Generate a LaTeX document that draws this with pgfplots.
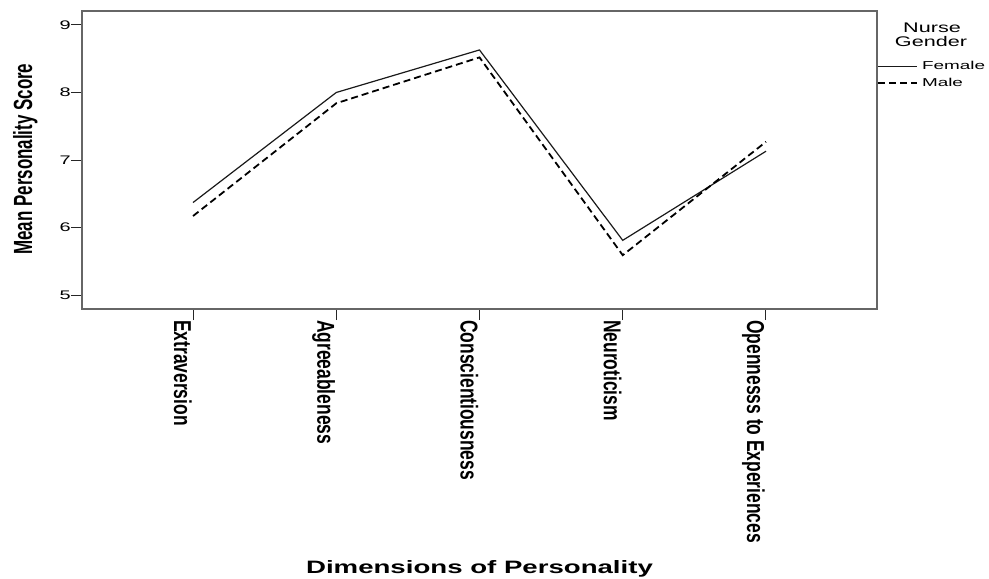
\documentclass[border=0pt]{standalone}
\usepackage{fontspec}
\setmainfont{Liberation Sans}
\usepackage{graphicx}
\usepackage{pgfplots}
\pgfplotsset{compat=1.18}
\newcommand\xl[1]{\scalebox{1}[1.4]{\fontsize{17.5}{18}\selectfont\bfseries #1}}
\newcommand\yl[1]{\scalebox{1.6}[1]{\fontsize{12.5}{13}\selectfont #1}}
\newcommand\legtxt[1]{\scalebox{1.65}[1]{\fontsize{11.5}{12}\selectfont #1}}
\begin{document}
\begin{tikzpicture}
\useasboundingbox (-82bp,-270bp) rectangle (907bp,309bp);
\begin{axis}[
  at={(0,0)}, anchor=south west,
  scale only axis, width=795bp, height=298bp,
  xmin=-0.775, xmax=4.775, ymin=4.793, ymax=9.207,
  xtick={0,1,2,3,4},
  xticklabels={\xl{Extraversion},\xl{Agreeableness},\xl{Conscientiousness},\xl{Neuroticism},\xl{Opennesss to Experiences}},
  ytick={5,6,7,8,9},
  yticklabels={\yl{5},\yl{6},\yl{7},\yl{8},\yl{9}},
  tick align=outside, xtick pos=bottom, ytick pos=left,
  major tick length=11bp,
  tick style={black!85, line width=1bp},
  axis line style={black!60, line width=1.3bp},
  xticklabel style={rotate=-90, anchor=north west, inner sep=0pt, yshift=-1bp},
  yticklabel style={anchor=east, inner sep=0pt},
  xlabel={\scalebox{1.54}[1]{\fontsize{18}{18}\selectfont\bfseries Dimensions of Personality}},
  xlabel style={at={(axis description cs:0.5,-0.886)}, anchor=base, inner sep=0pt},
  ylabel={\scalebox{1}[1.55]{\fontsize{17}{17}\selectfont\bfseries Mean Personality Score}},
  ylabel style={at={(axis description cs:-0.0868,0.503)}, anchor=north, inner sep=0pt},
  legend style={at={(rel axis cs:1,0.832)}, anchor=north west, draw=none, fill=none,
    inner sep=0pt, row sep=7bp, column sep=0pt,
    nodes={inner sep=0pt, text height=8bp, text depth=2bp, anchor=west}},
  legend cell align=left,
  legend image code/.code={\draw[#1] (1bp,0bp) -- (40bp,0bp); \path (44bp,0bp);},
  clip=false,
]
\addplot[black!90, line width=1.2bp] coordinates {(0,6.37) (1,8.00) (2,8.63) (3,5.81) (4,7.13)};
\addlegendentry{\legtxt{Female}}
\addplot[black, line width=1.8bp, dash pattern=on 7bp off 4bp] coordinates {(0,6.17) (1,7.84) (2,8.52) (3,5.59) (4,7.27)};
\addlegendentry{\legtxt{Male}}
\node[anchor=base, inner sep=0pt] at ([xshift=55bp,yshift=-22bp]rel axis cs:1,1) {\scalebox{1.55}[1]{\fontsize{14}{14}\selectfont Nurse}};
\node[anchor=base, inner sep=0pt] at ([xshift=54bp,yshift=-36bp]rel axis cs:1,1) {\scalebox{1.55}[1]{\fontsize{14}{14}\selectfont Gender}};
\end{axis}
\end{tikzpicture}
\end{document}
